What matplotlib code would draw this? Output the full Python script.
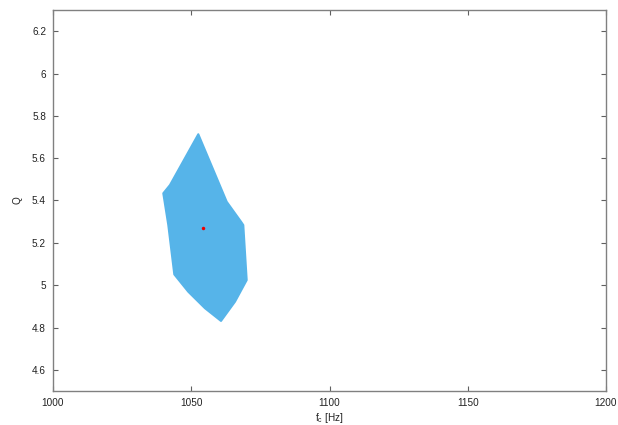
import matplotlib
matplotlib.use("Agg")
import matplotlib.pyplot as plt
from matplotlib.patches import Polygon

plt.rcParams['font.family'] = ['Liberation Sans', 'DejaVu Sans']

# Credible region boundary in (f_c, Q)
region_fc = [1052.55, 1062.82, 1067.99, 1068.82, 1070.05, 1065.82, 1060.76,
             1054.97, 1048.93, 1043.87, 1041.70, 1039.89, 1042.31]
region_q = [5.713, 5.394, 5.300, 5.284, 5.024, 4.922, 4.831,
            4.891, 4.969, 5.051, 5.284, 5.434, 5.473]

# Best-fit point
best_fc = [1054.4]
best_q = [5.268]

x_ticks = [1000, 1050, 1100, 1150, 1200]
y_ticks = [4.6, 4.8, 5.0, 5.2, 5.4, 5.6, 5.8, 6.0, 6.2]
y_tick_labels = ['4.6', '4.8', '5', '5.2', '5.4', '5.6', '5.8', '6', '6.2']

fig = plt.figure(figsize=(6.18, 4.25), dpi=100)
ax = fig.add_axes([53/618, 34/425, 553/618, 381/425])

blue = '#56B4E9'
poly = Polygon(list(zip(region_fc, region_q)), closed=True,
               facecolor=blue, edgecolor=blue, linewidth=1.5, joinstyle='round')
ax.add_patch(poly)
ax.plot(best_fc, best_q, 'o', color='#ee0000', markersize=2.5, markeredgewidth=0)

ax.set_xlim(1000, 1200)
ax.set_ylim(4.5, 6.3)
ax.set_xticks(x_ticks)
ax.set_yticks(y_ticks)
ax.set_yticklabels(y_tick_labels)

for s in ax.spines.values():
    s.set_color('#808080')
    s.set_linewidth(1.0)
ax.tick_params(direction='in', length=3.5, width=0.8, color='#606060',
               labelsize=7.2, labelcolor='#222222', top=True, right=True, pad=5)

ax.set_xlabel('f$_\\mathregular{c}$ [Hz]', fontsize=7.2, color='#222222', labelpad=2)
ax.set_ylabel('Q', fontsize=7.2, color='#222222', labelpad=7)

fig.savefig('out.png', dpi=100)
